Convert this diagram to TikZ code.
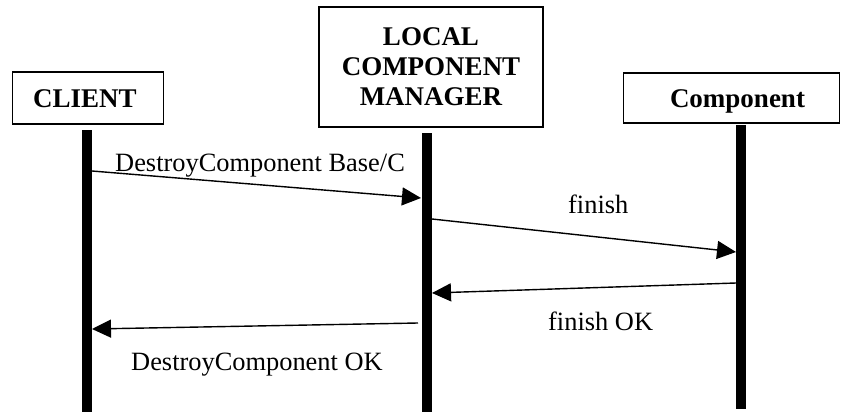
\documentclass[tikz,border=0pt]{standalone}
\usepackage{fontspec}
\setmainfont{Liberation Serif}
\usetikzlibrary{arrows.meta}
\begin{document}
\begin{tikzpicture}[x=1pt,y=-1pt,
  box/.style={draw,line width=1.5pt,inner sep=0pt,font=\fontsize{27}{30}\selectfont\bfseries,align=center},
  capbox/.style={box,text height=18pt,text depth=0pt},
  life/.style={line width=10.5pt},
  msg/.style={line width=1.4pt,-{Triangle[length=19pt,width=18pt]}},
  lbl/.style={font=\fontsize{26.4}{30}\selectfont,inner sep=0pt}]
\useasboundingbox (0,0) rectangle (841,412);
\node[capbox,minimum width=151pt,minimum height=52pt] (client) at (88,98) {CLIENT\hspace*{6pt}};
\node[box,minimum width=224pt,minimum height=120pt] (lcm) at (431,67) {LOCAL\\COMPONENT\\MANAGER};
\node[capbox,minimum width=216pt,minimum height=50pt] (comp) at (731.5,98) {\hspace*{12pt}Component};
\coordinate (cT) at (87,130); \coordinate (cB) at (87,412);
\coordinate (lT) at (427,133); \coordinate (lB) at (427,412);
\coordinate (pT) at (741,125); \coordinate (pB) at (741,409);
\draw[life] (cT) -- (cB);
\draw[life] (lT) -- (lB);
\draw[life] (pT) -- (pB);
\coordinate (a1) at (92,171); \coordinate (b1) at (421,198);
\coordinate (a2) at (432,219); \coordinate (b2) at (736,252);
\coordinate (a3) at (736,283); \coordinate (b3) at (432,293);
\coordinate (a4) at (418,323); \coordinate (b4) at (92,329);
\draw[msg] (a1) -- (b1);
\draw[msg] (a2) -- (b2);
\draw[msg] (a3) -- (b3);
\draw[msg] (a4) -- (b4);
\node[lbl,anchor=base west] (t1) at (115,171) {DestroyComponent Base/C};
\node[lbl,anchor=base west] (t2) at (568,213) {finish};
\node[lbl,anchor=base west] (t3) at (548,330) {finish OK};
\node[lbl,anchor=base west] (t4) at (131,370) {DestroyComponent OK};
\end{tikzpicture}
\end{document}
